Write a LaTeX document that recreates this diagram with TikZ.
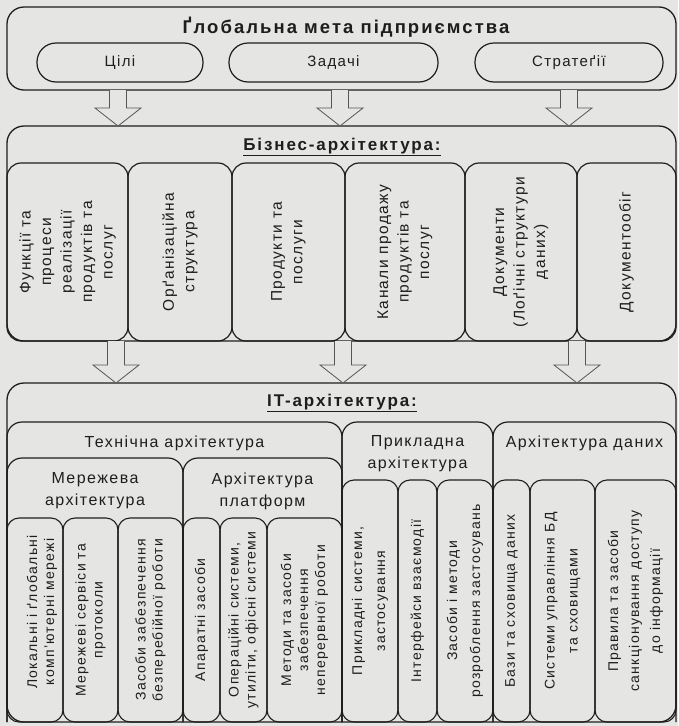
\documentclass[tikz,border=0pt]{standalone}
\usepackage{fontspec}
\setmainfont{Liberation Sans}[LetterSpace=9]
\newfontfamily\boldtitle{Liberation Sans Bold}[LetterSpace=11]
\usetikzlibrary{calc}
\definecolor{bg}{RGB}{229,229,227}
\definecolor{ink}{RGB}{30,30,30}
\newcommand\blockarrow[2]{\draw[barrow] let \p1=(#1), \p2=(#2) in
  (\x1-8.5pt,\y1) -- (\x1-8.5pt,\y2+18pt) -- (\x1-23pt,\y2+18pt) -- (\x1,\y2)
  -- (\x1+23pt,\y2+18pt) -- (\x1+8.5pt,\y2+18pt) -- (\x1+8.5pt,\y1);}
\begin{document}
\begin{tikzpicture}[x=1pt,y=-1pt,
  box/.style={draw=ink, line width=1.3pt, inner sep=0pt, outer sep=0pt, rectangle, text=ink},
  bigbox/.style={box, rounded corners=17pt},
  ovalbox/.style={box, line width=1.2pt, rounded corners=19pt, font=\fontsize{15}{18}\selectfont},
  bizbox/.style={box, line width=1.2pt, rounded corners=14pt, rotate=90, align=center,
     font=\fontsize{15.5}{20.5}\selectfont},
  leafbox/.style={box, line width=1.1pt, rounded corners=12pt, rotate=90, align=center,
     font=\fontsize{14}{17}\selectfont},
  wideleaf/.style={leafbox, font=\fontsize{14}{23}\selectfont},
  section/.style={draw=ink, line width=1.2pt, rounded corners=15pt},
  head/.style={inner sep=0pt, align=center, text=ink, font=\fontsize{16}{22}\selectfont},
  titletext/.style={inner sep=0pt, text=ink, font=\fontsize{17}{20}\boldtitle},
  barrow/.style={draw=ink!75, line width=0.8pt, fill=bg, line join=miter}]
\useasboundingbox (0,0) rectangle (678,726);
\fill[bg] (0,0) rectangle (678,726);

% ---- global goal
\node[bigbox, minimum width=669pt, minimum height=83pt, anchor=north west] (goal) at (7,7) {};
\node[titletext, font=\fontsize{18.5}{22}\boldtitle] (goalt) at (346,27) {Ґлобальна мета підприємства};
\node[ovalbox, minimum width=166pt, minimum height=39pt] (cili) at (120,62.5) {Цілі};
\node[ovalbox, minimum width=209pt, minimum height=39pt] (zad) at (333.5,62.5) {Задачі};
\node[ovalbox, minimum width=188pt, minimum height=39pt] (strat) at (569,62.5) {Стратеґії};

% ---- business architecture
\node[bigbox, minimum width=669pt, minimum height=215pt, anchor=north west] (biz) at (7,126) {};
\node[titletext] (bizt) at (342,147) {\underline{Бізнес-архітектура:}};
\node[bizbox, minimum width=178pt, minimum height=121pt] (b1) at (67.5,252) {Функції та\\процеси\\реалізації\\продуктів та\\послуг};
\node[bizbox, minimum width=178pt, minimum height=104pt] (b2) at (180,252) {Орґанізаційна\\структура};
\node[bizbox, minimum width=178pt, minimum height=113pt] (b3) at (288.5,252) {Продукти та\\послуги};
\node[bizbox, minimum width=178pt, minimum height=120pt] (b4) at (405,252) {Канали продажу\\продуктів та\\послуг};
\node[bizbox, minimum width=178pt, minimum height=112pt] (b5) at (521,252) {Документи\\(Лоґічні структури\\даних)};
\node[bizbox, minimum width=178pt, minimum height=99pt] (b6) at (626.5,252) {Документообіг};

% ---- IT architecture
\node[bigbox, minimum width=669pt, minimum height=339pt, anchor=north west] (it) at (7,383) {};
\node[titletext] (itt) at (342,403) {\underline{IT-архітектура:}};

\draw[section] (7,722) -- (7,422) -- (342,422) -- (342,722);
\draw[section] (342,722) -- (342,422) -- (493,422) -- (493,722);
\draw[section] (493,722) -- (493,422) -- (676,422) -- (676,722);
\draw[section] (7,722) -- (7,458) -- (183,458) -- (183,722);
\draw[section] (183,722) -- (183,458) -- (342,458) -- (342,722);

\node[head] (techt) at (174.5,443) {Технічна архітектура};
\node[head] (mert) at (95,491) {Мережева\\архітектура};
\node[head] (platt) at (262.5,491) {Архітектура\\платформ};
\node[head] (prikt) at (417.5,454) {Прикладна\\архітектура};
\node[head] (danit) at (584.5,443) {Архітектура даних};

\node[leafbox, minimum width=204pt, minimum height=56pt] (l1) at (35,620) {};
\node[leafbox, draw=none, fill=none] (l1t) at (42,612) {Локальні і ґлобальні\\комп'ютерні мережі};
\node[leafbox, minimum width=204pt, minimum height=55pt] (l2) at (90.5,620) {Мережеві сервіси та\\протоколи};
\node[leafbox, minimum width=204pt, minimum height=65pt] (l3) at (150.5,620) {Засоби забезпечення\\безперебійної роботи};
\node[leafbox, minimum width=204pt, minimum height=37pt] (l4) at (201.5,620) {Апаратні засоби};
\node[leafbox, minimum width=204pt, minimum height=47pt] (l5) at (243.5,620) {Операційні системи,\\утиліти, офісні системи};
\node[leafbox, minimum width=204pt, minimum height=75pt] (l6) at (304.5,620) {Методи та засоби\\забезпечення\\неперервної роботи};
\node[wideleaf, minimum width=242pt, minimum height=56pt] (l7) at (370,601) {Прикладні системи,\\застосування};
\node[wideleaf, minimum width=242pt, minimum height=39pt] (l8) at (417.5,601) {Інтерфейси взаємодії};
\node[wideleaf, minimum width=242pt, minimum height=56pt] (l9) at (465,601) {Засоби і методи\\розроблення застосувань};
\node[wideleaf, minimum width=242pt, minimum height=37pt] (l10) at (511.5,601) {Бази та сховища даних};
\node[wideleaf, minimum width=242pt, minimum height=65pt] (l11) at (562.5,601) {Системи управління БД\\та сховищами};
\node[leafbox, minimum width=242pt, minimum height=81pt, font=\fontsize{14}{21}\selectfont] (l12) at (635.5,601) {Правила та засоби\\санкціонування доступу\\до інформації};

% ---- block arrows
\coordinate (a1) at (118,90);
\coordinate (a2) at (340,90);
\coordinate (a3) at (569,90);
\blockarrow{a1 |- goal.south}{a1 |- biz.north}
\blockarrow{a2 |- goal.south}{a2 |- biz.north}
\blockarrow{a3 |- goal.south}{a3 |- biz.north}
\coordinate (c1) at (116,341);
\coordinate (c2) at (343,341);
\coordinate (c3) at (577,341);
\blockarrow{c1 |- biz.south}{c1 |- it.north}
\blockarrow{c2 |- biz.south}{c2 |- it.north}
\blockarrow{c3 |- biz.south}{c3 |- it.north}
\end{tikzpicture}
\end{document}
